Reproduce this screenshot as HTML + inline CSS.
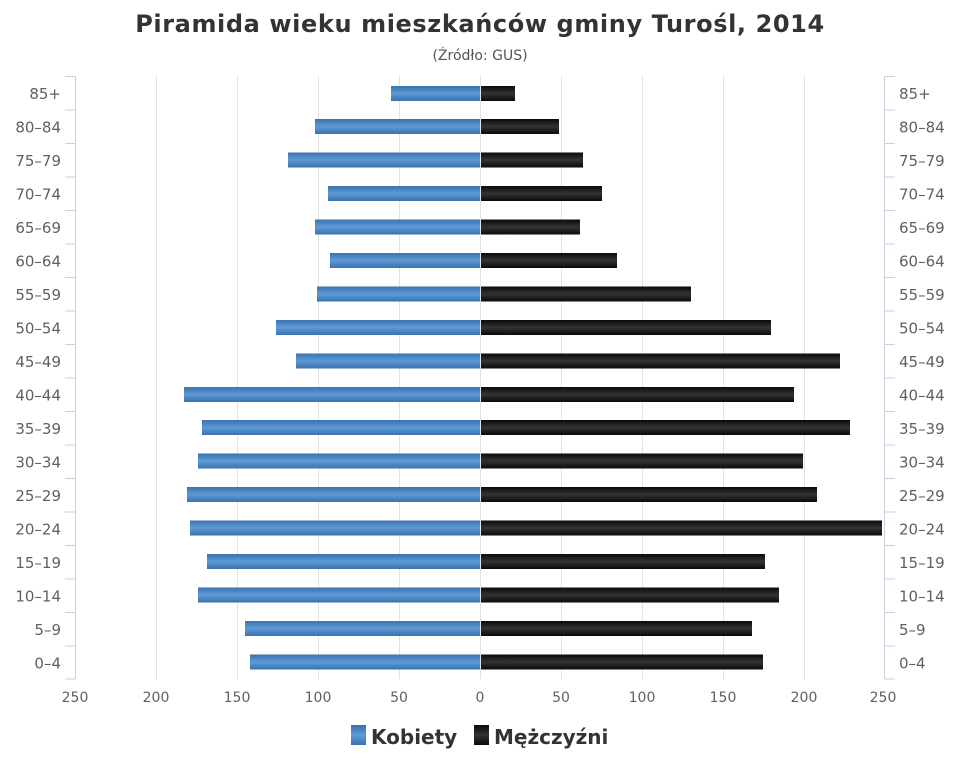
<!DOCTYPE html>
<html><head><meta charset="utf-8"><style>
html,body{margin:0;padding:0;background:#fff;}
text{font-family:"DejaVu Sans","Liberation Sans",sans-serif;}
</style></head><body>
<svg width="960" height="768" xmlns="http://www.w3.org/2000/svg">
<defs>
<linearGradient id="b" x1="0" y1="0" x2="0" y2="1">
<stop offset="0" stop-color="#3a72ad"/><stop offset="0.5" stop-color="#5d9ad6"/><stop offset="1" stop-color="#3a72ad"/>
</linearGradient>
<linearGradient id="k" x1="0" y1="0" x2="0" y2="1">
<stop offset="0" stop-color="#0a0a0a"/><stop offset="0.5" stop-color="#333"/><stop offset="1" stop-color="#0a0a0a"/>
</linearGradient>
</defs>
<text x="480" y="32" text-anchor="middle" font-size="24" font-weight="bold" fill="#333" letter-spacing="0.6">Piramida wieku mieszkańców gminy Turośl, 2014</text>
<text x="480" y="60" text-anchor="middle" font-size="14" fill="#555">(Źródło: GUS)</text>
<g stroke="#e2e2e2" stroke-width="1">
<line x1="156.5" y1="76" x2="156.5" y2="679"/><line x1="237.5" y1="76" x2="237.5" y2="679"/>
<line x1="318.5" y1="76" x2="318.5" y2="679"/><line x1="399.5" y1="76" x2="399.5" y2="679"/>
<line x1="480.5" y1="76" x2="480.5" y2="679"/><line x1="561.5" y1="76" x2="561.5" y2="679"/>
<line x1="642.5" y1="76" x2="642.5" y2="679"/><line x1="723.5" y1="76" x2="723.5" y2="679"/>
<line x1="804.5" y1="76" x2="804.5" y2="679"/>
</g>
<g stroke="#c8d0dc" stroke-width="1">
<line x1="75.5" y1="76" x2="75.5" y2="679"/><line x1="884.5" y1="76" x2="884.5" y2="679"/>
<path d="M65 76.5H75M65 110H75M65 143.5H75M65 177H75M65 210.5H75M65 244H75M65 277.5H75M65 311H75M65 344.5H75M65 378H75M65 411.5H75M65 445H75M65 478.5H75M65 512H75M65 545.5H75M65 579H75M65 612.5H75M65 646H75M65 679H75"/>
<path d="M885 76.5H895M885 110H895M885 143.5H895M885 177H895M885 210.5H895M885 244H895M885 277.5H895M885 311H895M885 344.5H895M885 378H895M885 411.5H895M885 445H895M885 478.5H895M885 512H895M885 545.5H895M885 579H895M885 612.5H895M885 646H895M885 679H895"/>
</g>
<g fill="url(#b)">
<rect x="391" y="86" width="89" height="15"/>
<rect x="315" y="119" width="165" height="15"/>
<rect x="288" y="152.5" width="192" height="15"/>
<rect x="328" y="186" width="152" height="15"/>
<rect x="315" y="219.5" width="165" height="15"/>
<rect x="330" y="253" width="150" height="15"/>
<rect x="317" y="286.5" width="163" height="15"/>
<rect x="276" y="320" width="204" height="15"/>
<rect x="296" y="353.5" width="184" height="15"/>
<rect x="184" y="387" width="296" height="15"/>
<rect x="202" y="420" width="278" height="15"/>
<rect x="198" y="453.5" width="282" height="15"/>
<rect x="187" y="487" width="293" height="15"/>
<rect x="190" y="520.5" width="290" height="15"/>
<rect x="207" y="554" width="273" height="15"/>
<rect x="198" y="587.5" width="282" height="15"/>
<rect x="245" y="621" width="235" height="15"/>
<rect x="250" y="654.5" width="230" height="15"/>
</g>
<g fill="url(#k)">
<rect x="481" y="86" width="34" height="15"/>
<rect x="481" y="119" width="78" height="15"/>
<rect x="481" y="152.5" width="102" height="15"/>
<rect x="481" y="186" width="121" height="15"/>
<rect x="481" y="219.5" width="99" height="15"/>
<rect x="481" y="253" width="136" height="15"/>
<rect x="481" y="286.5" width="210" height="15"/>
<rect x="481" y="320" width="290" height="15"/>
<rect x="481" y="353.5" width="359" height="15"/>
<rect x="481" y="387" width="313" height="15"/>
<rect x="481" y="420" width="369" height="15"/>
<rect x="481" y="453.5" width="322" height="15"/>
<rect x="481" y="487" width="336" height="15"/>
<rect x="481" y="520.5" width="401" height="15"/>
<rect x="481" y="554" width="284" height="15"/>
<rect x="481" y="587.5" width="298" height="15"/>
<rect x="481" y="621" width="271" height="15"/>
<rect x="481" y="654.5" width="282" height="15"/>
</g>
<g font-size="15" fill="#606060" text-anchor="end">
<text x="61" y="99">85+</text><text x="61" y="132.5">80–84</text><text x="61" y="166">75–79</text>
<text x="61" y="199.5">70–74</text><text x="61" y="233">65–69</text><text x="61" y="266.5">60–64</text>
<text x="61" y="300">55–59</text><text x="61" y="333.5">50–54</text><text x="61" y="367">45–49</text>
<text x="61" y="400.5">40–44</text><text x="61" y="434">35–39</text><text x="61" y="467.5">30–34</text>
<text x="61" y="501">25–29</text><text x="61" y="534.5">20–24</text><text x="61" y="568">15–19</text>
<text x="61" y="601.5">10–14</text><text x="61" y="635">5–9</text><text x="61" y="668.5">0–4</text>
</g>
<g font-size="15" fill="#606060" text-anchor="start">
<text x="899" y="99">85+</text><text x="899" y="132.5">80–84</text><text x="899" y="166">75–79</text>
<text x="899" y="199.5">70–74</text><text x="899" y="233">65–69</text><text x="899" y="266.5">60–64</text>
<text x="899" y="300">55–59</text><text x="899" y="333.5">50–54</text><text x="899" y="367">45–49</text>
<text x="899" y="400.5">40–44</text><text x="899" y="434">35–39</text><text x="899" y="467.5">30–34</text>
<text x="899" y="501">25–29</text><text x="899" y="534.5">20–24</text><text x="899" y="568">15–19</text>
<text x="899" y="601.5">10–14</text><text x="899" y="635">5–9</text><text x="899" y="668.5">0–4</text>
</g>
<g font-size="14" fill="#606060" text-anchor="middle">
<text x="75" y="702">250</text><text x="156" y="702">200</text><text x="237" y="702">150</text>
<text x="318" y="702">100</text><text x="399" y="702">50</text><text x="480" y="702">0</text>
<text x="561" y="702">50</text><text x="642" y="702">100</text><text x="723" y="702">150</text>
<text x="804" y="702">200</text><text x="883" y="702">250</text>
</g>
<rect x="351" y="725" width="15" height="20" fill="url(#b)"/>
<text x="371" y="744" font-size="20" font-weight="bold" fill="#333">Kobiety</text>
<rect x="474" y="725" width="15" height="20" fill="url(#k)"/>
<text x="494" y="744" font-size="20" font-weight="bold" fill="#333">Mężczyźni</text>
</svg>
</body></html>
